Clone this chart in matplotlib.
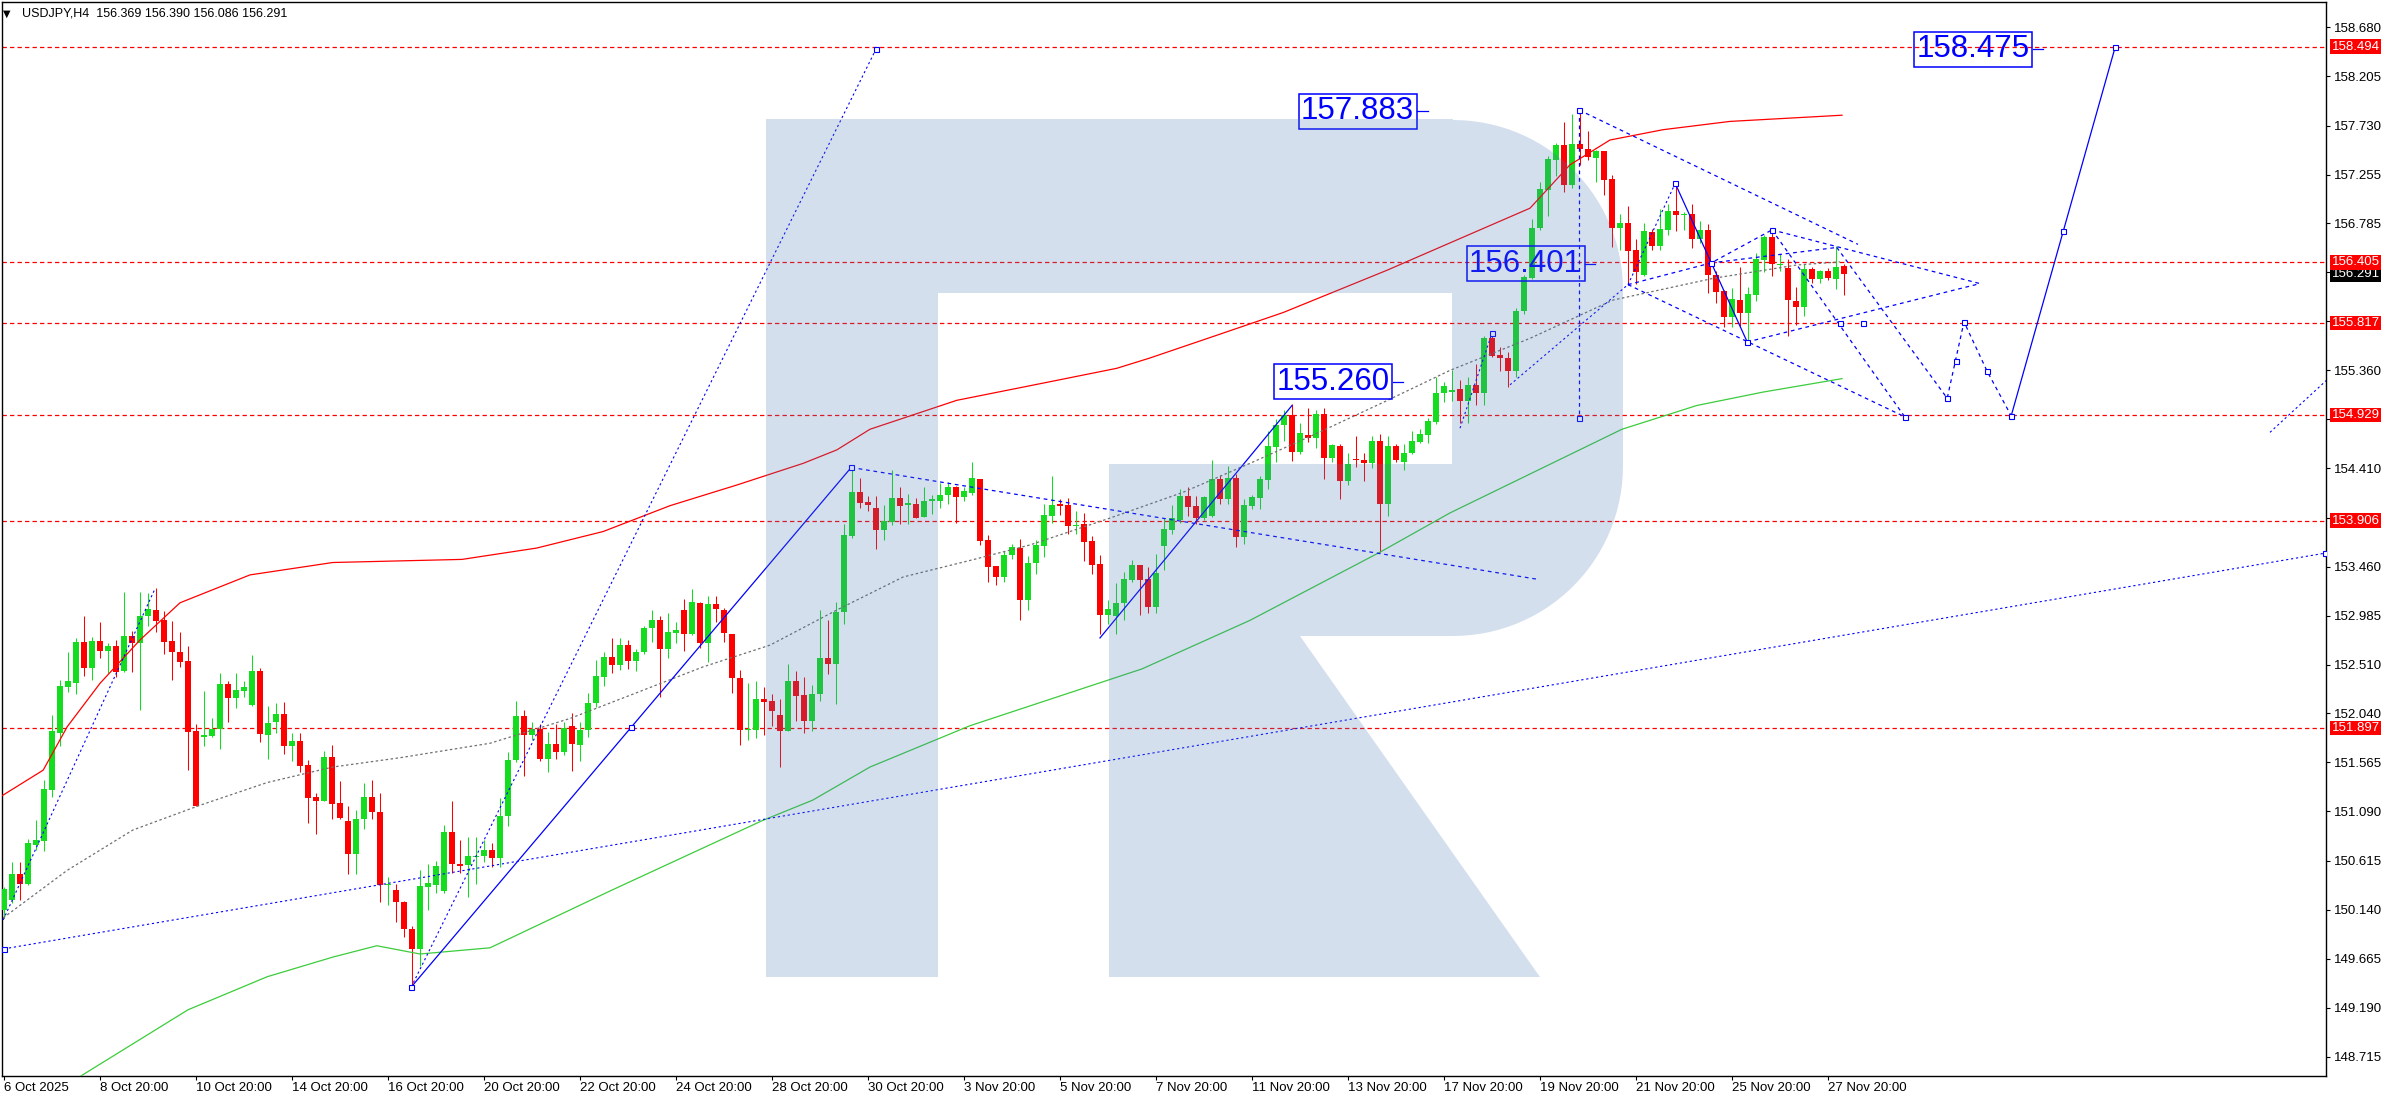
import numpy as np
import matplotlib.pyplot as plt
import matplotlib.transforms as mtransforms
from matplotlib.patches import Polygon

plt.rcParams['font.family'] = ['Liberation Sans', 'DejaVu Sans']

# H4 candles, 6 Oct 2025 20:00 .. 28 Nov 2025 04:00
opens = [150.14, 150.23, 150.48, 150.39, 150.77, 150.80, 151.30, 151.85, 152.29, 152.33,
         152.73, 152.48, 152.74, 152.64, 152.69, 152.45, 152.79, 152.72, 152.98, 153.04,
         152.94, 152.74, 152.63, 152.55, 151.87, 151.81, 151.82, 151.89, 152.32, 152.19,
         152.26, 152.12, 152.45, 151.83, 151.96, 152.03, 151.72, 151.77, 151.54, 151.23,
         151.19, 151.62, 151.17, 151.00, 150.68, 151.02, 151.23, 151.08, 150.38, 150.33,
         150.21, 149.95, 149.76, 150.36, 150.38, 150.32, 150.89, 150.58, 150.57, 150.65,
         150.66, 150.72, 150.64, 151.05, 151.59, 152.01, 151.83, 151.89, 151.60, 151.74,
         151.67, 151.92, 151.73, 151.88, 152.14, 152.39, 152.59, 152.51, 152.70, 152.55,
         152.63, 152.87, 152.94, 152.66, 152.82, 153.04, 152.81, 153.11, 152.72, 153.10,
         153.04, 152.81, 152.38, 151.88, 151.88, 152.18, 152.16, 152.02, 151.87, 152.35,
         152.22, 151.97, 152.23, 152.58, 152.52, 153.02, 153.76, 154.18, 154.09, 154.03,
         153.81, 153.89, 154.12, 154.06, 154.07, 153.94, 154.10, 154.10, 154.15, 154.23,
         154.13, 154.17, 154.31, 153.72, 153.47, 153.36, 153.57, 153.64, 153.14, 153.50,
         153.66, 153.95, 154.06, 154.06, 153.85, 153.87, 153.71, 153.49, 152.99, 152.98,
         153.11, 153.33, 153.48, 153.34, 153.07, 153.66, 153.81, 153.91, 154.14, 154.05,
         153.93, 153.95, 154.31, 154.11, 154.32, 153.75, 154.05, 154.12, 154.30, 154.62,
         154.83, 154.93, 154.57, 154.73, 154.71, 154.94, 154.51, 154.63, 154.29, 154.50,
         154.49, 154.46, 154.68, 154.07, 154.63, 154.47, 154.56, 154.67, 154.73, 154.86,
         155.14, 155.15, 155.18, 155.06, 155.22, 155.14, 155.67, 155.51, 155.48, 155.35,
         155.93, 156.25, 156.74, 157.11, 157.40, 157.54, 157.15, 157.55, 157.50, 157.42,
         157.48, 157.21, 156.74, 156.79, 156.53, 156.28, 156.70, 156.56, 156.72, 156.90,
         156.86, 156.87, 156.63, 156.72, 156.28, 156.13, 155.88, 156.04, 155.92, 156.09,
         156.43, 156.65, 156.38, 156.35, 156.03, 155.97, 156.34, 156.24, 156.32, 156.24,
         156.37]
highs = [150.36, 150.60, 150.60, 150.82, 151.01, 151.39, 152.02, 152.36, 152.63, 152.77,
         152.98, 152.78, 152.92, 152.72, 152.75, 153.21, 152.84, 153.21, 153.20, 153.25,
         153.03, 152.93, 152.83, 152.69, 151.94, 152.26, 151.99, 152.43, 152.35, 152.43,
         152.35, 152.60, 152.48, 152.11, 152.14, 152.15, 151.85, 151.85, 151.59, 151.27,
         151.68, 151.73, 151.38, 151.14, 151.10, 151.37, 151.39, 151.27, 150.46, 150.39,
         150.22, 149.98, 150.52, 150.58, 150.61, 150.96, 151.19, 150.81, 150.84, 150.84,
         150.81, 150.78, 151.22, 151.67, 152.16, 152.07, 151.96, 151.94, 151.86, 151.94,
         151.96, 152.04, 151.96, 152.24, 152.56, 152.63, 152.77, 152.77, 152.75, 152.66,
         152.89, 153.04, 152.98, 153.01, 152.92, 153.15, 153.24, 153.12, 153.18, 153.18,
         153.06, 152.81, 152.46, 152.33, 152.35, 152.29, 152.23, 152.18, 152.52, 152.45,
         152.39, 152.31, 153.04, 152.94, 153.12, 153.87, 154.43, 154.32, 154.14, 154.14,
         154.06, 154.40, 154.23, 154.16, 154.12, 154.23, 154.15, 154.27, 154.28, 154.24,
         154.23, 154.47, 154.31, 153.77, 153.47, 153.61, 153.68, 153.73, 153.56, 153.72,
         154.07, 154.34, 154.11, 154.12, 154.00, 153.98, 153.76, 153.57, 153.14, 153.30,
         153.41, 153.52, 153.48, 153.46, 153.58, 153.93, 154.06, 154.21, 154.23, 154.14,
         154.14, 154.49, 154.35, 154.43, 154.36, 154.11, 154.15, 154.34, 154.77, 154.89,
         154.98, 155.03, 154.85, 155.00, 154.98, 155.00, 154.65, 154.65, 154.56, 154.72,
         154.56, 154.72, 154.74, 154.72, 154.65, 154.65, 154.77, 154.79, 154.90, 155.30,
         155.25, 155.36, 155.27, 155.30, 155.42, 155.69, 155.73, 155.59, 155.54, 155.96,
         156.28, 156.83, 157.18, 157.44, 157.56, 157.76, 157.84, 157.88, 157.68, 157.49,
         157.48, 157.25, 156.87, 156.95, 156.63, 156.79, 156.73, 156.92, 156.97, 157.18,
         156.89, 156.97, 156.81, 156.78, 156.32, 156.14, 156.16, 156.36, 156.17, 156.50,
         156.67, 156.72, 156.49, 156.44, 156.17, 156.39, 156.36, 156.33, 156.35, 156.56,
         156.39]
lows = [150.06, 150.20, 150.23, 150.38, 150.72, 150.71, 151.23, 151.72, 152.25, 152.23,
        152.40, 152.36, 152.58, 152.43, 152.39, 152.44, 152.44, 152.07, 152.89, 152.83,
        152.61, 152.36, 152.49, 151.49, 151.14, 151.72, 151.81, 151.69, 151.96, 152.09,
        152.20, 152.11, 151.76, 151.60, 151.85, 151.65, 151.58, 151.47, 150.98, 150.87,
        151.19, 151.02, 151.02, 150.48, 150.48, 150.92, 151.02, 150.21, 150.18, 150.02,
        149.87, 149.36, 149.59, 150.14, 150.30, 150.30, 150.49, 150.49, 150.26, 150.39,
        150.60, 150.55, 150.55, 150.95, 151.57, 151.43, 151.78, 151.58, 151.47, 151.60,
        151.64, 151.48, 151.58, 151.81, 152.10, 152.30, 152.43, 152.46, 152.47, 152.45,
        152.61, 152.73, 152.20, 152.58, 152.72, 152.64, 152.80, 152.67, 152.54, 152.92,
        152.73, 152.24, 151.73, 151.78, 151.80, 151.83, 151.92, 151.52, 151.87, 151.97,
        151.85, 151.87, 152.16, 152.42, 152.13, 152.90, 153.74, 154.03, 154.00, 153.63,
        153.72, 153.86, 153.87, 153.87, 153.93, 153.94, 153.97, 154.03, 154.07, 153.88,
        154.10, 154.15, 153.67, 153.31, 153.28, 153.31, 153.53, 152.94, 153.04, 153.39,
        153.55, 153.88, 153.96, 153.78, 153.78, 153.51, 153.39, 152.81, 152.90, 152.81,
        152.94, 153.31, 152.99, 153.01, 153.01, 153.43, 153.78, 153.88, 153.95, 153.87,
        153.91, 153.94, 154.07, 154.07, 153.65, 153.68, 154.02, 154.02, 154.21, 154.47,
        154.68, 154.48, 154.55, 154.67, 154.61, 154.31, 154.47, 154.11, 154.25, 154.42,
        154.29, 154.41, 153.60, 153.95, 154.47, 154.40, 154.55, 154.66, 154.66, 154.84,
        155.05, 155.06, 154.85, 154.85, 155.02, 155.02, 155.49, 155.35, 155.20, 155.30,
        155.91, 156.24, 156.72, 156.85, 157.24, 157.09, 157.13, 157.35, 157.40, 157.18,
        157.06, 156.55, 156.53, 156.19, 156.20, 156.27, 156.53, 156.53, 156.67, 156.71,
        156.72, 156.54, 156.59, 156.11, 156.01, 155.78, 155.78, 155.78, 155.64, 156.03,
        156.31, 156.27, 156.32, 155.69, 155.80, 155.89, 156.21, 156.21, 156.23, 156.15,
        156.09]
closes = [150.34, 150.48, 150.39, 150.78, 150.81, 151.31, 151.87, 152.30, 152.35, 152.73,
          152.48, 152.74, 152.64, 152.69, 152.44, 152.79, 152.72, 152.98, 153.05, 152.93,
          152.73, 152.63, 152.54, 151.86, 151.14, 151.83, 151.89, 152.32, 152.19, 152.27,
          152.29, 152.45, 151.84, 151.95, 152.03, 151.72, 151.77, 151.53, 151.22, 151.19,
          151.62, 151.16, 151.03, 150.68, 151.02, 151.23, 151.08, 150.38, 150.39, 150.21,
          149.95, 149.76, 150.37, 150.40, 150.56, 150.89, 150.58, 150.56, 150.66, 150.66,
          150.72, 150.64, 151.05, 151.59, 152.01, 151.83, 151.89, 151.60, 151.74, 151.67,
          151.90, 151.74, 151.88, 152.14, 152.40, 152.59, 152.51, 152.70, 152.55, 152.63,
          152.87, 152.94, 152.66, 152.83, 152.85, 152.81, 153.12, 152.72, 153.10, 153.05,
          152.82, 152.38, 151.88, 151.89, 152.18, 152.15, 152.06, 151.87, 152.35, 152.21,
          151.97, 152.23, 152.58, 152.52, 153.02, 153.77, 154.18, 154.08, 154.06, 153.81,
          153.90, 154.12, 154.05, 154.07, 153.93, 154.10, 154.11, 154.15, 154.23, 154.13,
          154.19, 154.32, 153.71, 153.46, 153.36, 153.57, 153.65, 153.14, 153.50, 153.67,
          153.96, 154.06, 154.05, 153.85, 153.86, 153.70, 153.48, 152.99, 153.05, 153.11,
          153.34, 153.48, 153.33, 153.07, 153.40, 153.82, 153.93, 154.14, 154.04, 153.93,
          154.13, 154.31, 154.11, 154.32, 153.75, 154.06, 154.13, 154.31, 154.63, 154.83,
          154.93, 154.57, 154.75, 154.71, 154.94, 154.51, 154.64, 154.29, 154.45, 154.49,
          154.46, 154.68, 154.07, 154.63, 154.49, 154.56, 154.68, 154.74, 154.87, 155.14,
          155.21, 155.17, 155.06, 155.22, 155.14, 155.67, 155.50, 155.48, 155.35, 155.93,
          156.26, 156.74, 157.12, 157.41, 157.54, 157.15, 157.55, 157.50, 157.43, 157.48,
          157.20, 156.74, 156.79, 156.52, 156.31, 156.71, 156.56, 156.73, 156.90, 156.86,
          156.87, 156.63, 156.72, 156.28, 156.12, 155.88, 156.05, 155.92, 156.10, 156.44,
          156.65, 156.39, 156.39, 156.04, 155.97, 156.34, 156.24, 156.32, 156.25, 156.36,
          156.29]

date_ticks = [0, 12, 24, 36, 48, 60, 72, 84, 96, 108, 120, 132, 144, 156, 168, 180, 192, 204, 216, 228]
date_labels = ['6 Oct 2025', '8 Oct 20:00', '10 Oct 20:00', '14 Oct 20:00', '16 Oct 20:00',
               '20 Oct 20:00', '22 Oct 20:00', '24 Oct 20:00', '28 Oct 20:00', '30 Oct 20:00',
               '3 Nov 20:00', '5 Nov 20:00', '7 Nov 20:00', '11 Nov 20:00', '13 Nov 20:00',
               '17 Nov 20:00', '19 Nov 20:00', '21 Nov 20:00', '25 Nov 20:00', '27 Nov 20:00']
price_ticks = [158.680, 158.205, 157.730, 157.255, 156.785, 156.310, 155.835, 155.360, 154.885,
               154.410, 153.935, 153.460, 152.985, 152.510, 152.040, 151.565, 151.090, 150.615,
               150.140, 149.665, 149.190, 148.715]
# tick labels covered by the level tags on the price scale
covered_ticks = [156.310, 155.835, 154.885, 153.935]
levels = [158.494, 156.405, 155.817, 154.929, 153.906, 151.897]
last_price = 156.291

# moving averages (bar, price)
ma_red_x = [-0.5, 4.9, 7.9, 12, 17, 22, 30.75, 41.1, 57.25, 66.6, 74.9, 83.25, 91.6, 99.9, 104.1,
            108.25, 119.1, 130.75, 139.1, 143.25, 151.6, 159.9, 172.9, 178.25, 190.75, 195.75,
            200.75, 207.4, 215.75, 229.75]
ma_red_y = [151.23, 151.49, 151.91, 152.33, 152.75, 153.11, 153.38, 153.50, 153.53, 153.64, 153.80,
            154.05, 154.25, 154.46, 154.59, 154.79, 155.07, 155.25, 155.38, 155.48, 155.70, 155.92,
            156.33, 156.51, 156.93, 157.35, 157.59, 157.69, 157.77, 157.83]
ma_green_x = [9, 23, 32.9, 41.1, 46.6, 52, 60.75, 75.75, 94.75, 101.1, 108.25, 120.75, 142.25,
              155.75, 172, 180.75, 202.25, 211.6, 219.9, 229.75]
ma_green_y = [148.50, 149.17, 149.49, 149.68, 149.79, 149.71, 149.77, 150.32, 151.00, 151.20, 151.52,
              151.92, 152.47, 152.94, 153.60, 153.98, 154.79, 155.02, 155.15, 155.28]
ma_grey_x = [-0.1, 7.9, 16.1, 24.5, 32.9, 41.1, 49.5, 60.75, 70.75, 79.1, 87.4, 95.75, 104.1, 112.4,
             120.75, 128.25, 138.25, 147.4, 155.75, 164.1, 172.4, 180.75, 190.75, 201.1, 213.6,
             224.1, 229.5]
ma_grey_y = [150.06, 150.52, 150.91, 151.15, 151.37, 151.52, 151.61, 151.75, 151.99, 152.24, 152.49,
             152.70, 153.04, 153.36, 153.52, 153.67, 153.93, 154.18, 154.46, 154.75, 155.05, 155.36,
             155.67, 156.04, 156.25, 156.38, 156.41]

# analyst drawings: (bar, price) anchors
dotted_lines = [
    ([0, 290.1], [149.76, 153.59]),
    ([50.9, 109], [149.39, 158.47]),
    ([-0.1, 18.9], [150.04, 153.25]),
    ([182, 186], [154.80, 155.72]),
    ([188.25, 203], [155.22, 156.19]),
    ([203, 208.9], [156.19, 157.17]),
    ([283.25, 290.4], [154.76, 155.27]),
]
dashed_lines = [
    ([105.9, 191.5], [154.42, 153.34]),
    ([196.9, 196.9], [157.88, 154.90]),
    ([196.9, 231.75], [157.88, 156.58]),
    ([203, 237.6], [156.19, 154.91]),
    ([203, 213.4, 221], [156.19, 156.40, 156.72]),
    ([213.4, 229.1], [156.40, 156.55]),
    ([221, 247], [156.72, 156.20]),
    ([217.9, 247], [155.635, 156.20]),
    ([221, 237.6], [156.72, 154.91]),
    ([229.1, 242.9, 245, 247.9, 250.9], [156.55, 155.09, 155.83, 155.35, 154.92]),
]
solid_lines = [
    ([50.9, 105.9], [149.39, 154.42]),
    ([137, 161], [152.77, 155.02]),
    ([208.9, 217.9], [157.17, 155.635]),
    ([250.9, 263.9], [154.92, 158.49]),
]
anchor_x = [0, 290.1, 50.9, 78.4, 105.9, 109, 196.9, 196.9, 208.9, 213.4, 217.9, 221, 186,
            229.5, 232.4, 237.6, 242.9, 244, 245, 247.9, 250.9, 257.4, 263.9]
anchor_y = [149.76, 153.59, 149.39, 151.91, 154.42, 158.47, 157.88, 154.90, 157.17, 156.40, 155.635,
            156.72, 155.72, 155.82, 155.82, 154.91, 155.09, 155.45, 155.83, 155.35, 154.92, 156.71,
            158.49]

# price labels: (text, box centre bar, price, tick start, tick end)
price_tags = [('157.883', 169.2, 157.87, 176.6, 178.0),
              ('156.401', 190.2, 156.39, 197.6, 198.9),
              ('155.260', 166.1, 155.25, 173.6, 174.9),
              ('158.475', 246.1, 158.47, 253.6, 254.9)]

W, H = 2390, 1100
fig = plt.figure(figsize=(W / 100, H / 100), dpi=100)
ax = fig.add_axes([2 / W, 24 / H, 2324 / W, 1074 / H])
ax.set_xlim(-0.25, 290.25)
ax.set_ylim(148.529, 158.926)

GREEN = '#14dc1e'
RED = '#ff0000'
BLUE = '#0000ff'

o = np.array(opens); h = np.array(highs); l = np.array(lows); c = np.array(closes)
x = np.arange(len(c))
col = np.where(c >= o, GREEN, RED)
ax.vlines(x, l, h, colors=col, lw=0.75, zorder=3)
ax.bar(x, np.maximum(np.abs(c - o), 0.012), bottom=np.minimum(o, c), width=0.66,
       color=col, lw=0, zorder=4)

for lv in levels:
    ax.axhline(lv, color=RED, lw=0.9, ls=(0, (3.5, 2.5)), zorder=2)

ax.plot(ma_red_x, ma_red_y, color='#ff0000', lw=0.9, zorder=5)
ax.plot(ma_green_x, ma_green_y, color='#3ccc3c', lw=0.9, zorder=5)
ax.plot(ma_grey_x, ma_grey_y, color='#707070', lw=0.9, ls=(0, (2, 2)), zorder=5)

for xs, ys in dotted_lines:
    ax.plot(xs, ys, color=BLUE, lw=0.8, ls=(0, (2, 2.5)), zorder=6)
for xs, ys in dashed_lines:
    ax.plot(xs, ys, color=BLUE, lw=0.9, ls=(0, (3, 3)), zorder=6)
for xs, ys in solid_lines:
    ax.plot(xs, ys, color=BLUE, lw=0.9, zorder=6)
ax.plot(anchor_x, anchor_y, 's', ms=3.6, mfc='white', mec=BLUE, mew=0.8, zorder=7)

for txt, bx, py, t0, t1 in price_tags:
    ax.text(bx, py, txt, color=BLUE, fontsize=22.5, ha='center', va='center', zorder=8,
            bbox=dict(boxstyle='square,pad=0.08', fc='none', ec=BLUE, lw=1.1))
    ax.plot([t0, t1], [py, py], color=BLUE, lw=0.9, zorder=8)

# watermark logo, in axes fraction
def px(pts):
    return [((xx - 2) / 2324, (1076 - yy) / 1074) for xx, yy in pts]

def arc(cx, cy, r, a0, a1, n=30):
    t = np.radians(np.linspace(a0, a1, n))
    return list(zip(cx + r * np.cos(t), cy - r * np.sin(t)))

body_pts = ([(766, 977), (766, 119), (1453, 119)] + arc(1453, 290, 170, 90, 0)
            + [(1623, 466)] + arc(1453, 466, 170, 0, -90)
            + [(1109, 636), (1109, 464), (1452, 464), (1452, 293), (938, 293), (938, 977)])
leg_pts = [(1109, 636), (1300, 636), (1540, 977), (1109, 977)]
for pts in (body_pts, leg_pts):
    ax.add_patch(Polygon(px(pts), closed=True, transform=ax.transAxes, fc='#4979b9',
                         ec='none', alpha=0.235, zorder=9))

# axes styling
for s in ax.spines.values():
    s.set_color('black')
    s.set_linewidth(1)
ax.yaxis.tick_right()
ax.set_yticks(price_ticks)
ax.set_yticklabels(['' if p in covered_ticks else f'{p:.3f}' for p in price_ticks])
ax.set_xticks(date_ticks)
ax.set_xticklabels(date_labels, ha='left')
ax.tick_params(axis='y', direction='out', length=3, width=0.8, pad=3, labelsize=9.5, colors='black')
ax.tick_params(axis='x', direction='out', length=3, width=0.8, pad=1.5, labelsize=9.5, colors='black')

btrans = mtransforms.blended_transform_factory(ax.transAxes, ax.transData)
ax.text(1.0024, last_price, f'{last_price:.3f}', transform=btrans, ha='left', va='center',
        color='white', fontsize=9.5, clip_on=False, zorder=20,
        bbox=dict(boxstyle='square,pad=0.1', fc='black', ec='none'))
for lv in levels:
    ax.text(1.0024, lv, f'{lv:.3f}', transform=btrans, ha='left', va='center', color='white',
            fontsize=9.5, clip_on=False, zorder=21,
            bbox=dict(boxstyle='square,pad=0.1', fc='red', ec='none'))

fig.text(3 / W, 1 - 14 / H, '\u25bc', fontsize=7, va='center', ha='left', family='DejaVu Sans')
fig.text(22 / W, 1 - 14 / H, 'USDJPY,H4  156.369 156.390 156.086 156.291', fontsize=9,
         va='center', ha='left')

fig.savefig('out.png', dpi=100, facecolor='white')
